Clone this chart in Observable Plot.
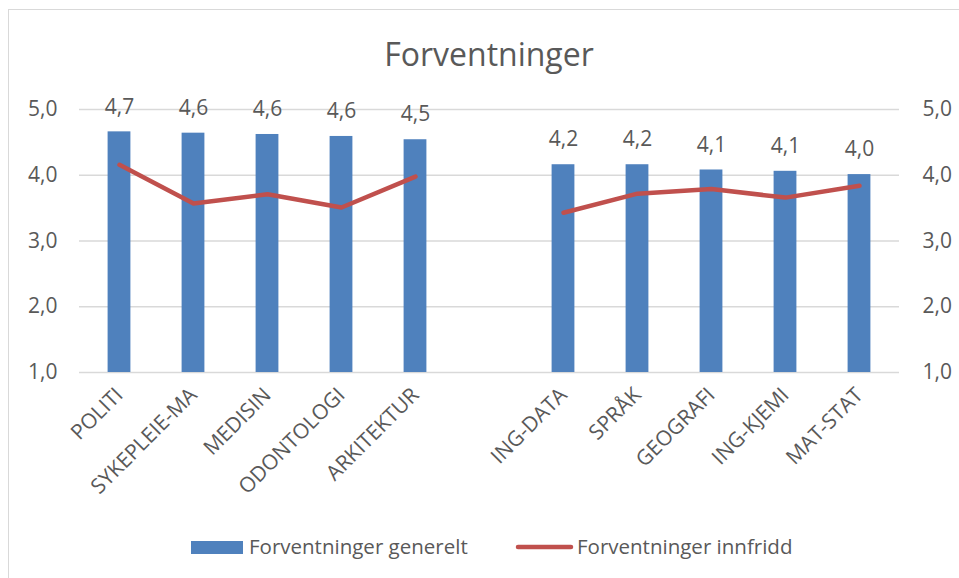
<!DOCTYPE html>
<html>
<head>
<meta charset="utf-8">
<script src="https://cdn.jsdelivr.net/npm/d3@7"></script>
<script src="https://cdn.jsdelivr.net/npm/@observablehq/plot@0.6"></script>
<style>
  html, body { margin: 0; padding: 0; background: #fff; overflow: hidden; }
  #wrap { position: relative; width: 959px; height: 578px; overflow: hidden; font-family: "Open Sans", sans-serif; color: #595959; }
  #frame { position: absolute; left: 8px; top: 9px; width: 1100px; height: 1100px; border: 1.5px solid #D9D9D9; box-sizing: border-box; }
  #chart { position: absolute; left: 0; top: 0; }
  #overlay { position: absolute; left: 0; top: 0; }
</style>
</head>
<body>
<div id="wrap">
  <div id="frame"></div>
  <div id="chart"></div>
  <svg id="overlay" width="959" height="578"></svg>
</div>
<script>
const categories = ["POLITI", "SYKEPLEIE-MA", "MEDISIN", "ODONTOLOGI", "ARKITEKTUR", " ", "ING-DATA", "SPRÅK", "GEOGRAFI", "ING-KJEMI", "MAT-STAT"];
const generelt = [4.66, 4.64, 4.62, 4.59, 4.54, null, 4.16, 4.16, 4.08, 4.06, 4.01];
const innfridd = [4.16, 3.57, 3.71, 3.51, 3.98, null, 3.43, 3.72, 3.79, 3.66, 3.84];
const yTicks = [1, 2, 3, 4, 5];
const titleText = "Forventninger";
const seriesNames = ["Forventninger generelt", "Forventninger innfridd"];
const colors = ["#4F81BD", "#C0504D"];

const fmt = v => v.toFixed(1).replace(".", ",");
const rows = categories.map((c, i) => ({cat: c, gen: generelt[i], inn: innfridd[i]}));
const barRows = rows.filter(d => d.gen != null);
const FONT = "'Open Sans', sans-serif";

const chart = Plot.plot({
  width: 959,
  height: 578,
  marginLeft: 79,
  marginRight: 60,
  marginTop: 109,
  marginBottom: 206,
  style: {fontFamily: FONT, color: "#595959", background: "transparent", overflow: "visible"},
  x: {domain: categories, padding: 0, label: null},
  y: {domain: [1, 5], label: null},
  marks: [
    Plot.gridY(yTicks, {stroke: "#D9D9D9", strokeOpacity: 1, strokeWidth: 1.5}),
    Plot.barY(barRows, {x: "cat", y1: 1, y2: "gen", fill: colors[0], insetLeft: 25.6, insetRight: 25.6}),
    Plot.line(rows, {x: "cat", y: "inn", stroke: colors[1], strokeWidth: 4.5, strokeLinejoin: "round", strokeLinecap: "round"}),
    Plot.text(barRows, {x: "cat", y: "gen", text: d => fmt(d.gen), dy: -25, fontSize: 21, fill: "#595959"}),
    Plot.axisX({tickSize: 0, tickRotate: -45, tickPadding: 19, dx: 0, fontSize: 21, label: null}),
    Plot.axisY(yTicks, {anchor: "left", tickSize: 0, tickPadding: 22, tickFormat: fmt, fontSize: 21, label: null}),
    Plot.axisY(yTicks, {anchor: "right", tickSize: 0, tickPadding: 23, tickFormat: fmt, fontSize: 21, label: null})
  ]
});
document.getElementById("chart").appendChild(chart);

// Title and legend
const ov = d3.select("#overlay");
ov.append("text").attr("x", 489).attr("y", 66).attr("text-anchor", "middle")
  .attr("font-family", FONT).attr("font-size", 32).attr("fill", "#595959").text(titleText);
ov.append("rect").attr("x", 191).attr("y", 541).attr("width", 52).attr("height", 13).attr("fill", colors[0]);
ov.append("text").attr("x", 249).attr("y", 554).attr("font-family", FONT).attr("font-size", 20.5).attr("fill", "#595959").text(seriesNames[0]);
ov.append("line").attr("x1", 518).attr("x2", 571).attr("y1", 547).attr("y2", 547).attr("stroke", colors[1]).attr("stroke-width", 4.5).attr("stroke-linecap", "round");
ov.append("text").attr("x", 577).attr("y", 554).attr("font-family", FONT).attr("font-size", 20.5).attr("fill", "#595959").text(seriesNames[1]);
</script>
</body>
</html>
